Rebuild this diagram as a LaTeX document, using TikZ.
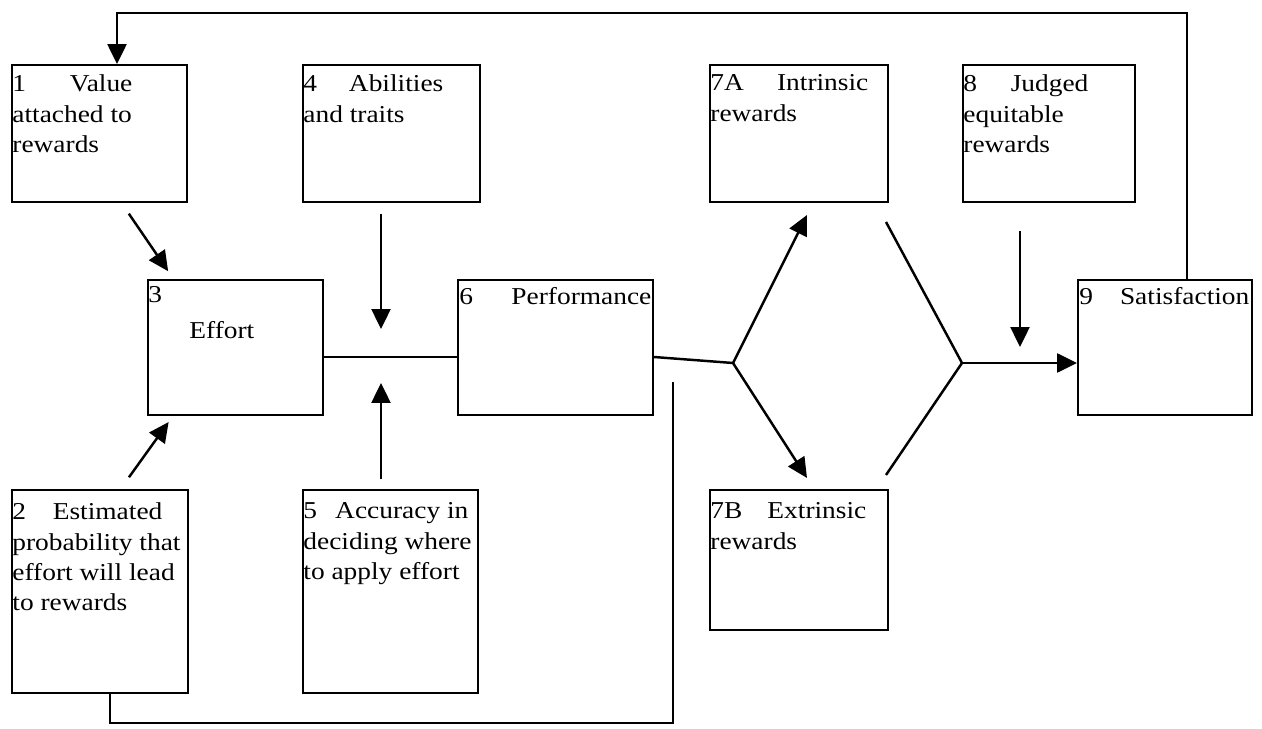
\documentclass[tikz,border=0pt]{standalone}
\usepackage{fontspec}
\setmainfont{Liberation Serif}[FakeStretch=1.13]
\usetikzlibrary{arrows.meta}

% first line of a box text, number left and word pushed right
\newcommand{\firstline}[3]{\hbox to #1{#2\hfill #3}}

\begin{document}
\begin{tikzpicture}[x=0.02cm,y=-0.02cm,
	box/.style={draw,line width=1.1pt,inner sep=0pt},
	txt/.style={anchor=north west,yshift=10pt,inner sep=0pt,align=left,
		font=\fontsize{13.8}{17.3}\selectfont,
		execute at begin node={\rule{0pt}{10pt}}},
	link/.style={line width=1.4pt},
	arr/.style={link,-{Triangle[length=0.4cm,width=0.38cm]}}]

	\useasboundingbox (0,0) rectangle (1262,729);

	% top row
	\node[box,minimum width=3.5cm,minimum height=2.74cm] (b1) at (99.5,133.5) {};
	\node[box,minimum width=3.54cm,minimum height=2.74cm] (b4) at (391.5,133.5) {};
	\node[box,minimum width=3.56cm,minimum height=2.74cm] (b7a) at (799,133.5) {};
	\node[box,minimum width=3.44cm,minimum height=2.74cm] (b8) at (1049,133.5) {};

	% middle row
	\node[box,minimum width=3.5cm,minimum height=2.7cm] (b3) at (235.5,347.5) {};
	\node[box,minimum width=3.9cm,minimum height=2.7cm] (b6) at (555.5,347.5) {};
	\node[box,minimum width=3.48cm,minimum height=2.7cm] (b9) at (1165,347.5) {};

	% bottom row
	\node[box,minimum width=3.52cm,minimum height=4.06cm] (b2) at (100,591.5) {};
	\node[box,minimum width=3.5cm,minimum height=4.06cm] (b5) at (390.5,591.5) {};
	\node[box,minimum width=3.56cm,minimum height=2.8cm] (b7b) at (799,560) {};

	% texts
	\node[txt] (t1) at ([xshift=0.02cm,yshift=-0.56cm]b1.north west)
		{\firstline{2.4cm}{1}{Value}\\attached to\\rewards};
	\node[txt] (t4) at ([xshift=0.02cm,yshift=-0.56cm]b4.north west)
		{\firstline{2.8cm}{4}{Abilities}\\and traits};
	\node[txt] (t7a) at ([xshift=0.02cm,yshift=-0.56cm]b7a.north west)
		{\firstline{3.16cm}{7A}{Intrinsic}\\rewards};
	\node[txt] (t8) at ([xshift=0.02cm,yshift=-0.56cm]b8.north west)
		{\firstline{2.5cm}{8}{Judged}\\equitable\\rewards};
	\node[txt] (t3) at ([xshift=0.02cm,yshift=-0.5cm]b3.north west)
		{3\\[3pt]\hspace*{0.82cm}Effort};
	\node[txt] (t6) at ([xshift=0.04cm,yshift=-0.5cm]b6.north west)
		{\firstline{3.84cm}{6}{Performance}};
	\node[txt] (t9) at ([xshift=0.04cm,yshift=-0.5cm]b9.north west)
		{\firstline{3.4cm}{9}{Satisfaction}};
	\node[txt] (t2) at ([xshift=0.02cm,yshift=-0.62cm]b2.north west)
		{\firstline{3.0cm}{2}{Estimated}\\probability that\\effort will lead\\to rewards};
	\node[txt] (t5) at ([xshift=0.02cm,yshift=-0.62cm]b5.north west)
		{\firstline{3.3cm}{5}{Accuracy in}\\deciding where\\to apply effort};
	\node[txt] (t7b) at ([xshift=0.02cm,yshift=-0.62cm]b7b.north west)
		{\firstline{3.12cm}{7B}{Extrinsic}\\rewards};

	% points on the connectors
	\coordinate (fbR) at (1187,13);
	\coordinate (fbL) at (117,13);
	\coordinate (mid) at (381,357);
	\coordinate (split) at (733,363);
	\coordinate (upTip) at (807,215);
	\coordinate (downTip) at (807,478);
	\coordinate (upEnd) at (886,222);
	\coordinate (downEnd) at (886,475);
	\coordinate (merge) at (962,363);
	\coordinate (eq) at (1020,363);
	\coordinate (lowR) at (673,723);
	\coordinate (lowTop) at (673,382);

	% feedback to value
	\draw[arr] (b9.north -| fbR) -- (fbR) -- (fbL) -- (b1.north -| fbL);

	% into effort
	\draw[arr,shorten <=0.26cm,shorten >=0.19cm]
		([xshift=0.44cm]b1.south) -- ([xshift=-1.24cm]b3.north);
	\draw[arr,shorten <=0.29cm,shorten >=0.15cm]
		([xshift=0.41cm]b2.north) -- ([xshift=-1.25cm]b3.south);

	% effort to performance
	\draw[link] ([yshift=-0.19cm]b3.east) -- ([yshift=-0.19cm]b6.west);
	\draw[arr,shorten <=0.22cm,shorten >=0.56cm] (b4.south -| mid) -- (mid);
	\draw[arr,shorten <=0.2cm,shorten >=0.52cm] (b5.north -| mid) -- (mid);

	% performance to rewards
	\draw[link] ([yshift=-0.19cm]b6.east) -- (split);
	\draw[arr] (split) -- (upTip);
	\draw[arr] (split) -- (downTip);
	\draw[link] (upEnd) -- (merge);
	\draw[link] (downEnd) -- (merge);

	% rewards to satisfaction
	\draw[arr] (merge) -- (b9.west |- merge);
	\draw[arr,shorten <=0.56cm,shorten >=0.32cm] (b8.south -| eq) -- (eq);

	% probability back to the bottom
	\draw[link] ([xshift=0.2cm]b2.south) |- (lowR) -- (lowTop);

\end{tikzpicture}
\end{document}
